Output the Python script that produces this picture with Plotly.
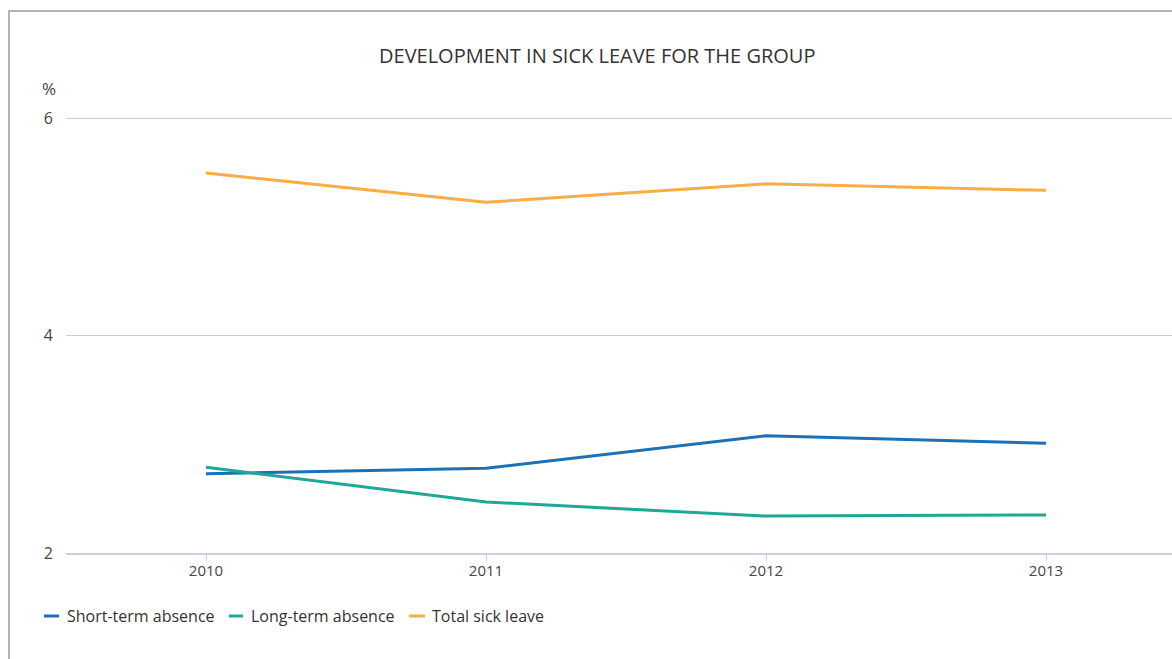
import plotly.graph_objects as go

years = ["2010", "2011", "2012", "2013"]
short_term = [2.73, 2.78, 3.08, 3.01]
long_term = [2.79, 2.47, 2.34, 2.35]
total = [5.50, 5.23, 5.40, 5.34]
series_names = ["Short-term absence", "Long-term absence", "Total sick leave"]
colors = ["#1C71B6", "#1FA898", "#F8AD45"]
y_ticks = [2, 4, 6]

W, H = 1172, 659
L, R, T, B = 66, 0, 97, 106
pw, ph = W - L - R, H - T - B

def px(x):
    return (x - L) / pw

def py(y):
    return (H - B - y) / ph

fig = go.Figure()
for name, vals, c in zip(series_names, [short_term, long_term, total], colors):
    fig.add_trace(go.Scatter(x=years, y=vals, name=name, mode="lines",
                             line=dict(color=c, width=3), showlegend=False))

font = "'Open Sans', 'Noto Sans', sans-serif"

# Legend drawn as short line keys + text (positions in pixels)
legend_line_x = [(44, 59), (229, 243), (409, 425)]
legend_text_x = [65, 249, 430]
legend_y = 616
annotations = [
    dict(text="DEVELOPMENT IN SICK LEAVE FOR THE GROUP", xref="paper", yref="paper",
         x=px(597), y=py(55), xanchor="center", yanchor="middle", showarrow=False,
         font=dict(size=20, color="#333333")),
    dict(text="%", xref="paper", yref="paper", x=px(40), y=py(88),
         xanchor="left", yanchor="middle", showarrow=False,
         font=dict(size=17, color="#444444")),
]
shapes = [
    dict(type="line", xref="paper", yref="paper", x0=px(9), x1=px(9),
         y0=py(10), y1=py(H + 5), line=dict(color="#B3B3B3", width=2)),
    dict(type="line", xref="paper", yref="paper", x0=px(8), x1=px(W + 5),
         y0=py(11), y1=py(11), line=dict(color="#B3B3B3", width=2)),
]
for name, c, (x0, x1), tx in zip(series_names, colors, legend_line_x, legend_text_x):
    shapes.append(dict(type="line", xref="paper", yref="paper", x0=px(x0), x1=px(x1),
                       y0=py(legend_y), y1=py(legend_y), line=dict(color=c, width=3)))
    annotations.append(dict(text=name, xref="paper", yref="paper", x=px(tx), y=py(legend_y),
                            xanchor="left", yanchor="middle", showarrow=False,
                            font=dict(size=16, color="#333333")))

fig.update_layout(
    width=W, height=H,
    margin=dict(l=L, r=R, t=T, b=B),
    paper_bgcolor="white", plot_bgcolor="white",
    font=dict(family=font, color="#333333", size=14),
    showlegend=False,
    xaxis=dict(type="category", range=[-0.5, 3.45], showgrid=False,
               showline=True, linecolor="#C7D2E0", linewidth=2,
               ticks="outside", ticklen=6, tickcolor="#C7D2E0", tickwidth=1,
               ticklabelstandoff=-3,
               tickfont=dict(size=15, color="#444444"), zeroline=False),
    yaxis=dict(range=[2, 6.2], tickvals=y_ticks, showgrid=True,
               gridcolor="#CCCCCC", gridwidth=1, zeroline=False, showline=False,
               ticks="", ticklabelstandoff=12,
               tickfont=dict(size=16, color="#444444")),
    annotations=annotations,
    shapes=shapes,
)

fig.write_html("out.html", config={"displayModeBar": False},
               post_script="document.body.style.margin='0';document.body.style.overflow='hidden';")
